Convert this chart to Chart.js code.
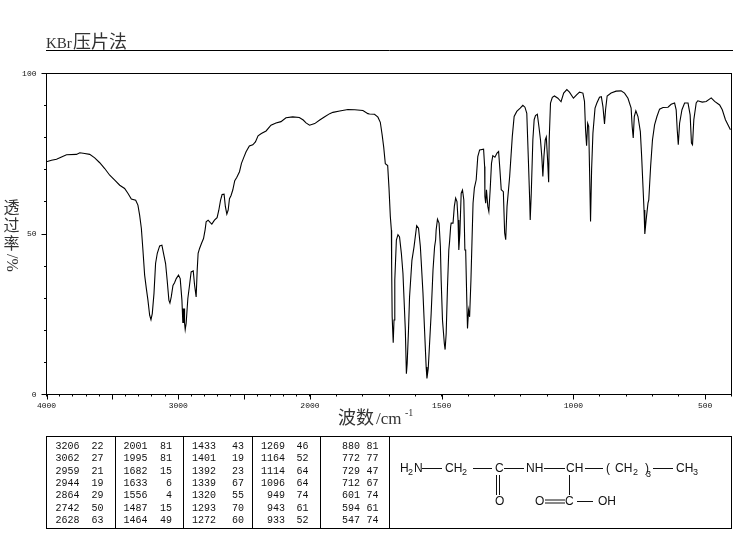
<!DOCTYPE html>
<html><head><meta charset="utf-8">
<style>html,body{margin:0;padding:0;background:#fff}canvas{display:block}</style>
<script src="https://cdn.jsdelivr.net/npm/chart.js@4"></script>
</head><body>
<canvas id="c" width="737" height="539"></canvas>
<script>
const wavenumbers = [4000,3962,3924,3886,3848,3773,3747,3710,3672,3634,3596,3558,3520,3482,3444,3407,3381,3356,3323,3306,3293,3280,3268,3255,3242,3230,3217,3207,3197,3184,3172,3159,3141,3124,3109,3096,3084,3071,3063,3053,3040,3028,3015,2998,2985,2972,2965,2962,2960,2955,2952,2947,2940,2927,2914,2902,2886,2876,2864,2856,2849,2838,2823,2808,2796,2788,2773,2758,2745,2725,2705,2692,2679,2667,2652,2642,2631,2621,2611,2599,2586,2571,2556,2535,2520,2503,2485,2460,2434,2414,2394,2369,2333,2296,2258,2220,2182,2131,2081,2051,2030,2003,1982,1963,1944,1925,1913,1887,1856,1830,1799,1780,
1774,1755,1742,1733,1726,1720,1714,1705,1700,1695,1691,1690,1688,1684,1681,1678,1672,1666,1660,1653,1647,1643,1638,1634,1631,1626,1622,1613,1605,1595,1588,1581,1578,1571,1565,1559,1556,1551,1546,1540,1533,1527,1523,1521,1516,1510,1505,1502,1497,1490,1487,1483,1478,1473,1470,1466,1464,1457,1452,1447,1442,1438,1435,1431,1426,1421,1416,1412,1409,1405,1402,1398,1394,1389,1385,1381,1376,1369,1363,1356,1341,1337,1336,1333,1330,1325,1321,1316,1311,1306,1298,1290,1284,1279,1274,1266,1261,1257,1252,1242,1232,1225,1215,1202,1192,1184,1177,1171,1166,1164,1160,1154,1149,1144,1137,1131,1125,1120,1116,1112,1107,1103,1098,1094,1092,1087,1080,1072,1059,1047,1037,1025,1015,1000,987,977,964,958,954,950,946,942,939,935,931,926,918,911,901,894,888,882,878,872,857,838,819,806,793,781,777,773,769,763,755,746,741,736,732,729,724,717,714,707,700,692,683,673,660,641,629,616,610,606,602,597,588,578,565,557,552,548,543,534,528,511,496,477,464,445,435,423,404];
const transmittance = [72.5,73,73.3,74,74.7,74.8,75.3,75.1,74.8,73.7,72.2,70.4,68.3,66.8,65.2,64.2,62.6,60.9,60.5,59,55.9,51.8,45,37.2,33,29.4,24.7,23.3,25.2,31.5,40.8,44,46.3,46.5,43.4,40.8,35.6,29.4,28.5,30.4,34,34.8,36.1,37.2,36.1,29.4,22.3,26.8,22.3,26.8,22.3,20.2,22.1,29.9,34.1,38.2,38.5,34.1,30.4,38.8,44,45.5,47.1,48.6,51.3,53.8,54.3,53.6,53.1,54.3,55.1,57.4,60.5,62.3,62.4,58.5,56.2,57.4,61,62,63.7,66.6,67.6,69.4,72,73.8,75.6,77.4,77.8,78.7,80.6,81.3,82.1,83.9,84.6,85,86.2,86.5,86.3,85.5,84.6,83.9,84.4,85.5,86.5,87.5,87.9,88.3,88.8,88.7,88.5,87.5,
87.4,87.3,86.4,84.8,80.9,77,71.9,71.3,64.3,55.5,51.2,40.3,24.2,16.1,23.2,35.6,48.1,49.8,49.1,43.9,37.7,29.9,20,6.5,9.7,20,30.4,41.8,46,52.6,51.8,46.1,41.8,31.5,20,8.6,5,8.1,15.9,25.2,38.7,46,48.2,51.3,54.6,53.4,46.1,35.6,23.2,15.9,14,19,33.5,45,47.7,52.3,53.4,53.4,58.6,61.2,60.1,54.4,45,50.3,62.7,63.7,60.6,45,45,30.4,20.6,26.3,24.2,35.6,47.7,59.6,64.3,66.9,74.1,76.2,76.4,71,61.7,59.6,63.8,58.6,57,63.8,72,74.4,73.9,75.2,75.7,70,63.8,63.2,50.3,48.2,58.6,67.9,80.4,86.6,88.2,89.2,90.1,89.5,87.6,73.1,60.6,54.4,62.7,79.3,85.6,86.9,87.3,83.5,79.3,74.1,67.9,74.1,79.3,80.2,73.1,66.1,79.3,90.8,92.6,93,92.3,91.2,93.9,95,94.2,92.3,93.4,94.2,93.9,91.3,82.5,77.5,84.5,83.5,71,53.9,70,81.4,89.2,90.8,92.6,92.8,89.7,84.3,88.7,93,93.9,94.5,94.6,93.9,92.3,89.2,83.5,79.9,86.6,88.4,86.6,81.9,74.1,64.8,57.5,50,54.4,59.6,60.6,71,79.3,84,86.6,88.9,89.4,89.5,90.4,90.8,88.7,82.5,77.8,84.5,88.7,90.8,90.8,87.1,78.3,77.8,85.6,90.8,91.5,91.1,91.3,92.4,91.3,90.2,88.7,85.6,82.5];
const xTickLabels = [4000,3000,2000,1500,1000,500];
const xMajorTicks = [4000,3500,3000,2500,2000,1500,1000,500];
const yTickLabels = [0,50,100];
const peakWavenumbers = [3206,3062,2959,2944,2864,2742,2628, 2001,1995,1682,1633,1556,1487,1464, 1433,1401,1392,1339,1320,1293,1272, 1269,1164,1114,1096,949,943,933, 880,772,729,712,601,594,547];
const peakValues = [22,27,21,19,29,50,63, 81,81,15,6,4,15,49, 43,19,23,67,55,70,60, 46,52,64,64,74,61,52, 81,77,47,67,74,61,74];
const titleLatin = 'KBr';
const titleCjk = '压片法';
const yTitleChars = ['透','过','率'];
const yTitleUnit = '/%';
const xTitleCjk = '波数';
const xTitleUnit = '/cm';
const xTitleExp = '-1';

// Wavenumber axis with a scale change at 2000 cm-1 (expanded below 2000)
const toU = w => w >= 2000 ? (4000 - w) / 2 : 1000 + (2000 - w);
class BrokenWavenumberScale extends Chart.LinearScale {
  getPixelForValue(v) { return this.getPixelForDecimal(toU(v) / 2600); }
  getValueForPixel(p) { const u = this.getDecimalForPixel(p) * 2600; return u <= 1000 ? 4000 - u * 2 : 3000 - u; }
}
BrokenWavenumberScale.id = 'brokenWavenumber';
BrokenWavenumberScale.defaults = Chart.LinearScale.defaults;
Chart.register(BrokenWavenumberScale);

const SERIF = '"Liberation Serif","Noto Sans CJK SC",serif';
const SANS = '"Liberation Sans",sans-serif';
const MONO = '"Liberation Mono",monospace';
const INK = '#111';

function line(ctx, x1, y1, x2, y2) { ctx.beginPath(); ctx.moveTo(x1, y1); ctx.lineTo(x2, y2); ctx.stroke(); }

const decorations = {
  id: 'decorations',
  afterDatasetsDraw(chart) {
    const ctx = chart.ctx, a = chart.chartArea, X = chart.scales.x, Y = chart.scales.y;
    ctx.save();
    ctx.strokeStyle = '#000'; ctx.lineWidth = 1; ctx.fillStyle = INK;
    ctx.strokeRect(a.left, a.top, a.right - a.left, a.bottom - a.top);
    xMajorTicks.forEach(v => { const p = Math.round(X.getPixelForValue(v)) + 0.5; line(ctx, p, a.bottom, p, a.bottom + 5); });
    yTickLabels.forEach(v => { const p = Math.round(Y.getPixelForValue(v) - 0.5) + 0.5; line(ctx, a.left - 5, p, a.left, p); });

    // header
    ctx.fillStyle = '#333'; ctx.textAlign = 'left'; ctx.textBaseline = 'alphabetic';
    ctx.font = '15px ' + SERIF; ctx.fillText(titleLatin, 46, 48);
    ctx.font = '18px ' + SERIF; ctx.fillText(titleCjk, 73, 48);
    ctx.strokeStyle = '#000'; line(ctx, 46, 50.5, 733, 50.5);

    // y title
    ctx.fillStyle = '#333';
    ctx.textAlign = 'center'; ctx.textBaseline = 'middle';
    ctx.font = '16px ' + SERIF;
    yTitleChars.forEach((ch, i) => ctx.fillText(ch, 11.5, 209 + i * 18));
    ctx.save(); ctx.translate(11.5, 263); ctx.rotate(Math.PI / 2); ctx.fillText(yTitleUnit, 0, 0); ctx.restore();

    // x title
    ctx.textAlign = 'left'; ctx.textBaseline = 'alphabetic';
    ctx.font = '18px ' + SERIF; ctx.fillText(xTitleCjk, 338, 424);
    ctx.font = '17px ' + SERIF; ctx.fillText(xTitleUnit, 376, 424);
    ctx.font = '10px ' + SERIF; ctx.fillText(xTitleExp, 405, 416);

    // peak table
    ctx.lineWidth = 1; ctx.strokeStyle = '#000';
    ctx.strokeRect(46.5, 436.5, 685, 92);
    [115.5, 183.5, 252.5, 320.5, 389.5].forEach(x => line(ctx, x, 436.5, x, 528.5));
    const wnRight = [79.5, 147.5, 216, 285, 360], valRight = [103.5, 172, 244, 308.5, 378.5];
    ctx.font = '10px ' + MONO; ctx.fillStyle = INK; ctx.textAlign = 'right'; ctx.textBaseline = 'middle';
    peakWavenumbers.forEach((w, i) => {
      const c = Math.floor(i / 7), r = i % 7, y = 446.5 + r * 12.33;
      ctx.fillText(String(w), wnRight[c], y);
      ctx.fillText(String(peakValues[i]), valRight[c], y);
    });

    // structure
    ctx.textAlign = 'left'; ctx.textBaseline = 'middle'; ctx.font = '12px ' + SANS; ctx.fillStyle = INK;
    const big = [['H',400,468.5],['N',414,468.5],['CH',445,468.5],['C',495,468.5],['NH',526,468.5],['CH',566,468.5],['(',606,468.5],['CH',615,468.5],[')',645,468.5],['CH',676,468.5],['O',495,501.5],['O',535,501.5],['C',565,501.5],['OH',598,501.5]];
    big.forEach(t => ctx.fillText(t[0], t[1], t[2]));
    ctx.font = '9px ' + SANS;
    [['2',408,473],['2',462,473],['2',633,473],['3',646,475],['3',693,473]].forEach(t => ctx.fillText(t[0], t[1], t[2]));
    ctx.strokeStyle = '#111';
    [[422,468,442,468],[473,468,492,468],[504,468,524,468],[544,468,565,468],[585,468,603,468],[653,468,673,468],
     [496.5,475,496.5,495],[499.5,475,499.5,495],[569.5,475,569.5,495],[545,499.5,565,499.5],[545,502.5,565,502.5],[577,501,593,501]]
      .forEach(s => line(ctx, s[0] + 0, s[1] + (s[1] === s[3] ? 0.5 : 0), s[2], s[3] + (s[1] === s[3] ? 0.5 : 0)));
    ctx.restore();
  }
};

new Chart(document.getElementById('c'), {
  type: 'line',
  data: { datasets: [{
    data: wavenumbers.map((w, i) => ({ x: w, y: transmittance[i] })),
    borderColor: '#000', borderWidth: 1.1, pointRadius: 0, tension: 0, fill: false
  }]},
  plugins: [decorations],
  options: {
    responsive: false, animation: false, devicePixelRatio: 1,
    layout: { padding: { top: 73.5, right: 5.5, bottom: 0, left: 0 } },
    plugins: { legend: { display: false }, tooltip: { enabled: false }, title: { display: false } },
    scales: {
      x: {
        type: 'brokenWavenumber', min: 400, max: 4000, position: 'bottom',
        grid: { drawOnChartArea: false, drawTicks: true, tickLength: 2, tickColor: '#000', offset: false },
        border: { color: '#000' },
        afterBuildTicks: s => { const t = []; for (let v = 4000; v >= 400; v -= 100) t.push({ value: v }); s.ticks = t; },
        ticks: { autoSkip: false, maxRotation: 0, padding: 5, color: INK, font: { family: 'Liberation Mono', size: 8 },
          callback: v => xTickLabels.includes(v) ? String(v) : '' },
        afterFit: s => { s.height = 144.5; }
      },
      y: {
        min: 0, max: 100, position: 'left',
        grid: { drawOnChartArea: false, drawTicks: true, tickLength: 2.5, tickColor: '#000' },
        border: { color: '#000' },
        ticks: { stepSize: 10, autoSkip: false, padding: 7.5, color: INK, font: { family: 'Liberation Mono', size: 8 },
          callback: v => yTickLabels.includes(v) ? String(v) : '' },
        afterFit: s => { s.width = 46.5; }
      }
    }
  }
});
</script>
</body></html>
